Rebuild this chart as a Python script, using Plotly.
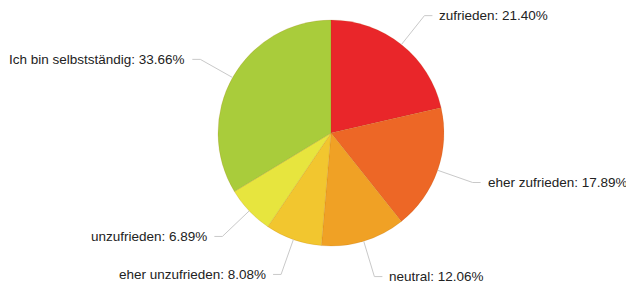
import math
import plotly.graph_objects as go

labels = ["zufrieden", "eher zufrieden", "neutral", "eher unzufrieden", "unzufrieden", "Ich bin selbstständig"]
values = [21.40, 17.89, 12.06, 8.08, 6.89, 33.66]
colors = ["#e9262a", "#ed6726", "#f0a125", "#f2c62f", "#e7e53e", "#a9cc3b"]

# page body has an 8px margin; figure sized to fit the window
OFF = 8
W, H = 634 - OFF, 286 - OFF
CX, CY, R = 331 - OFF, 133 - OFF, 113
R_ELBOW = 150
HSEG = 8
GAP = 5

fig = go.Figure(go.Pie(
    labels=labels, values=values, sort=False, direction="clockwise", rotation=0,
    marker=dict(colors=colors, line=dict(color="rgba(160,90,0,0.25)", width=0.6)),
    textinfo="none", hoverinfo="label+percent", showlegend=False,
    domain=dict(x=[(CX - R) / W, (CX + R) / W], y=[1 - (CY + R) / H, 1 - (CY - R) / H]),
))

total = sum(values)
cum = 0.0
shapes = []
annotations = []
for lab, v in zip(labels, values):
    mid = (cum + v / 2) / total * 2 * math.pi
    cum += v
    s, c = math.sin(mid), math.cos(mid)
    x0, y0 = CX + R * s, CY - R * c
    x1, y1 = CX + R_ELBOW * s, CY - R_ELBOW * c
    side = 1 if s >= 0 else -1
    x2 = x1 + side * HSEG
    path = f"M {x0/W} {1-y0/H} L {x1/W} {1-y1/H} L {x2/W} {1-y1/H}"
    shapes.append(dict(type="path", xref="paper", yref="paper", path=path,
                       line=dict(color="#c9c9c9", width=1)))
    annotations.append(dict(
        x=(x2 + side * GAP) / W, y=1 - y1 / H, xref="paper", yref="paper",
        text=f"{lab}: {v:.2f}%", showarrow=False,
        xanchor="left" if side > 0 else "right", yanchor="middle",
        font=dict(family="Liberation Sans, Arial, Helvetica, sans-serif", size=13.5, color="#222222"),
    ))

fig.update_layout(
    width=W, height=H, margin=dict(l=0, r=0, t=0, b=0),
    paper_bgcolor="white", plot_bgcolor="white",
    shapes=shapes, annotations=annotations,
)
fig.write_html("out.html")
